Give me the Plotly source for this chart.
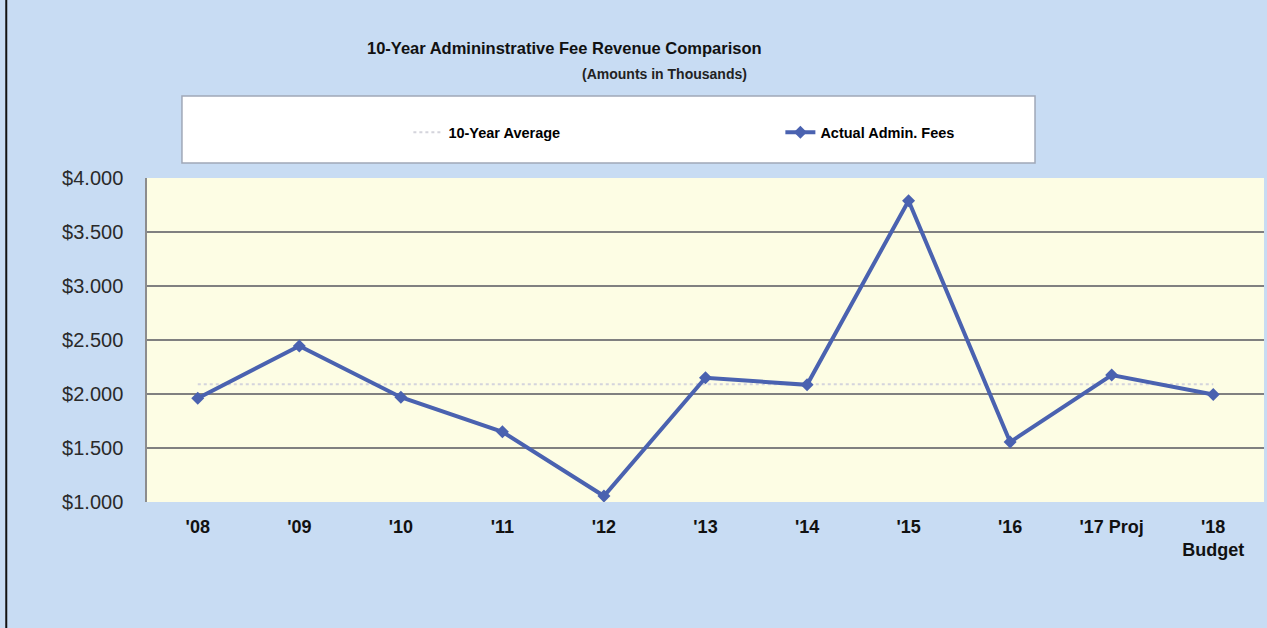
import plotly.graph_objects as go

categories = ["'08", "'09", "'10", "'11", "'12", "'13", "'14", "'15", "'16", "'17 Proj", "'18<br>Budget"]
actual_fees = [1960, 2445, 1970, 1650, 1055, 2150, 2085, 3790, 1555, 2175, 1995]
ten_year_avg = [2090] * len(categories)
y_ticks = [1000, 1500, 2000, 2500, 3000, 3500, 4000]
y_tick_labels = ["$1.000", "$1.500", "$2.000", "$2.500", "$3.000", "$3.500", "$4.000"]

sans = "Liberation Sans, Arial"

fig = go.Figure()
fig.add_trace(go.Scatter(
    x=categories, y=ten_year_avg, name="10-Year Average", mode="lines",
    line=dict(color="#d4d4dc", width=2, dash="dot"),
))
fig.add_trace(go.Scatter(
    x=categories, y=actual_fees, name="Actual Admin. Fees", mode="lines+markers",
    line=dict(color="#4a62b0", width=4),
    marker=dict(symbol="diamond", size=10, color="#4a62b0"),
))

fig.update_layout(
    width=1267, height=628,
    margin=dict(l=147, r=3, t=178, b=126),
    paper_bgcolor="#c8dcf3",
    plot_bgcolor="#fdfde4",
    showlegend=True,
    legend=dict(
        orientation="h", x=0.234, y=1.141, xanchor="left", yanchor="middle",
        bgcolor="rgba(0,0,0,0)", entrywidth=327, entrywidthmode="pixels",
        font=dict(family=sans, size=14.5, color="#000000", weight="bold"),
        traceorder="normal",
    ),
    xaxis=dict(
        range=[-0.5, 10.5],
        showgrid=False, showline=False, ticks="",
        tickfont=dict(family=sans, size=18, color="#111111", weight="bold"),
        ticklabelstandoff=12,
    ),
    yaxis=dict(
        range=[1000, 4000], tickvals=y_ticks, ticktext=y_tick_labels,
        showgrid=True, gridcolor="#808080", gridwidth=1.5,
        showline=True, linecolor="#8c8c8c", linewidth=1.5,
        tickfont=dict(family=sans, size=20, color="#2a2a2a"),
        ticklabelstandoff=18, zeroline=False,
    ),
    shapes=[
        dict(type="rect", xref="paper", yref="paper", x0=0.0313, x1=0.795, y0=1.046, y1=1.253,
             fillcolor="#ffffff", line=dict(color="#a0a8b8", width=1.5), layer="below"),
        dict(type="line", xref="paper", yref="paper", x0=-0.126, x1=-0.126, y0=-0.39, y1=1.55,
             line=dict(color="#111111", width=2)),
    ],
    annotations=[
        dict(text="<b>10-Year Admininstrative Fee Revenue Comparison</b>", xref="paper", yref="paper",
             x=0.374, y=1.40, xanchor="center", yanchor="middle", showarrow=False,
             font=dict(family=sans, size=16.5, color="#111111")),
        dict(text="<b>(Amounts in Thousands)</b>", xref="paper", yref="paper",
             x=0.463, y=1.32, xanchor="center", yanchor="middle", showarrow=False,
             font=dict(family=sans, size=14, color="#222222")),
    ],
)

fig.write_html("out.html")
